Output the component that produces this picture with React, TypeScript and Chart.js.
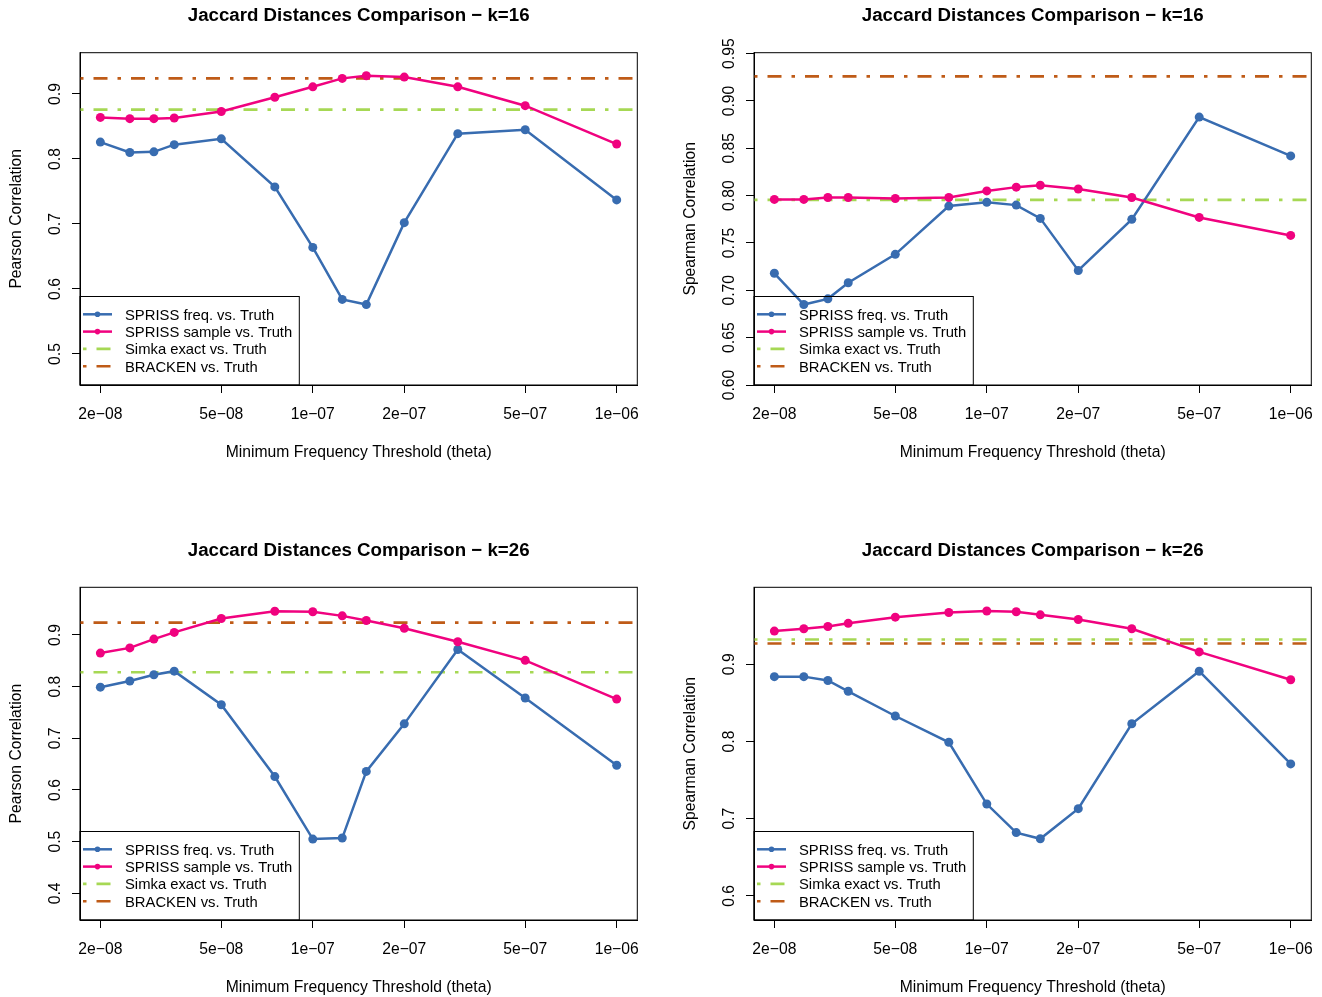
import React, { useEffect, useRef } from "react";
import { Chart, registerables } from "chart.js";

Chart.register(...registerables);

// ---------- data ----------
const THETA = [2e-8, 2.5e-8, 3e-8, 3.5e-8, 5e-8, 7.5e-8, 1e-7, 1.25e-7, 1.5e-7, 2e-7, 3e-7, 5e-7, 1e-6];
const X_TICKS = [2e-8, 5e-8, 1e-7, 2e-7, 5e-7, 1e-6];
const X_TICK_LABELS = ["2e\u221208", "5e\u221208", "1e\u221207", "2e\u221207", "5e\u221207", "1e\u221206"];
const X_TITLE = "Minimum Frequency Threshold (theta)";
const SERIES_NAMES = ["SPRISS freq. vs. Truth", "SPRISS sample vs. Truth", "Simka exact vs. Truth", "BRACKEN vs. Truth"];

// k=16, Pearson
const K16_PEARSON_FREQ = [0.826, 0.810, 0.811, 0.822, 0.831, 0.757, 0.664, 0.584, 0.576, 0.702, 0.839, 0.845, 0.737];
const K16_PEARSON_SAMPLE = [0.864, 0.862, 0.862, 0.863, 0.873, 0.895, 0.911, 0.924, 0.928, 0.926, 0.911, 0.882, 0.823];
const K16_PEARSON_SIMKA = 0.876;
const K16_PEARSON_BRACKEN = 0.924;
const K16_PEARSON_YTICKS = [0.5, 0.6, 0.7, 0.8, 0.9];

// k=16, Spearman
const K16_SPEARMAN_FREQ = [0.718, 0.685, 0.691, 0.708, 0.738, 0.789, 0.793, 0.790, 0.776, 0.721, 0.775, 0.883, 0.842];
const K16_SPEARMAN_SAMPLE = [0.796, 0.796, 0.798, 0.798, 0.797, 0.798, 0.805, 0.809, 0.811, 0.807, 0.798, 0.777, 0.758];
const K16_SPEARMAN_SIMKA = 0.7955;
const K16_SPEARMAN_BRACKEN = 0.926;
const K16_SPEARMAN_YTICKS = [0.6, 0.65, 0.7, 0.75, 0.8, 0.85, 0.9, 0.95];

// k=26, Pearson
const K26_PEARSON_FREQ = [0.799, 0.811, 0.823, 0.830, 0.765, 0.626, 0.505, 0.507, 0.636, 0.728, 0.872, 0.778, 0.648];
const K26_PEARSON_SAMPLE = [0.865, 0.875, 0.892, 0.905, 0.932, 0.946, 0.945, 0.937, 0.928, 0.913, 0.887, 0.851, 0.776];
const K26_PEARSON_SIMKA = 0.828;
const K26_PEARSON_BRACKEN = 0.924;
const K26_PEARSON_YTICKS = [0.4, 0.5, 0.6, 0.7, 0.8, 0.9];

// k=26, Spearman
const K26_SPEARMAN_FREQ = [0.884, 0.884, 0.879, 0.865, 0.833, 0.799, 0.719, 0.682, 0.674, 0.713, 0.823, 0.891, 0.771];
const K26_SPEARMAN_SAMPLE = [0.943, 0.946, 0.949, 0.953, 0.961, 0.967, 0.969, 0.968, 0.964, 0.958, 0.946, 0.916, 0.880];
const K26_SPEARMAN_SIMKA = 0.932;
const K26_SPEARMAN_BRACKEN = 0.927;
const K26_SPEARMAN_YTICKS = [0.6, 0.7, 0.8, 0.9];

// ---------- styling / layout ----------
const X_MIN = 1.714e-8;
const X_MAX = 1.169e-6;
const COLORS = ["#386CB0", "#F0027F", "#A6D854", "#BF5B17"];
const FONT = '"Liberation Sans", Arial, Helvetica, sans-serif';
const DOTDASH = [3.5, 10, 14, 10];
const CANVAS_W = 648;
const CANVAS_H = 465;

type PanelCfg = {
  title: string;
  yTitle: string;
  freq: number[];
  sample: number[];
  simka: number;
  bracken: number;
  yTicks: number[];
  dec: number;
  yMin: number;
  yMax: number;
  canvasLeft: number;
  canvasTop: number;
  boxTop: number; // page coords
};

const PANELS: PanelCfg[] = [
  {
    title: "Jaccard Distances Comparison \u2212 k=16",
    yTitle: "Pearson Correlation",
    freq: K16_PEARSON_FREQ, sample: K16_PEARSON_SAMPLE,
    simka: K16_PEARSON_SIMKA, bracken: K16_PEARSON_BRACKEN,
    yTicks: K16_PEARSON_YTICKS, dec: 1, yMin: 0.4523, yMax: 0.9635,
    canvasLeft: 0, canvasTop: 0, boxTop: 52.7,
  },
  {
    title: "Jaccard Distances Comparison \u2212 k=16",
    yTitle: "Spearman Correlation",
    freq: K16_SPEARMAN_FREQ, sample: K16_SPEARMAN_SAMPLE,
    simka: K16_SPEARMAN_SIMKA, bracken: K16_SPEARMAN_BRACKEN,
    yTicks: K16_SPEARMAN_YTICKS, dec: 2, yMin: 0.6, yMax: 0.951,
    canvasLeft: 674, canvasTop: 0, boxTop: 52.7,
  },
  {
    title: "Jaccard Distances Comparison \u2212 k=26",
    yTitle: "Pearson Correlation",
    freq: K26_PEARSON_FREQ, sample: K26_PEARSON_SAMPLE,
    simka: K26_PEARSON_SIMKA, bracken: K26_PEARSON_BRACKEN,
    yTicks: K26_PEARSON_YTICKS, dec: 1, yMin: 0.3484, yMax: 0.9923,
    canvasLeft: 0, canvasTop: 535, boxTop: 587.3,
  },
  {
    title: "Jaccard Distances Comparison \u2212 k=26",
    yTitle: "Spearman Correlation",
    freq: K26_SPEARMAN_FREQ, sample: K26_SPEARMAN_SAMPLE,
    simka: K26_SPEARMAN_SIMKA, bracken: K26_SPEARMAN_BRACKEN,
    yTicks: K26_SPEARMAN_YTICKS, dec: 1, yMin: 0.5688, yMax: 0.9997,
    canvasLeft: 674, canvasTop: 535, boxTop: 587.3,
  },
];

function makeDecorPlugin(p: PanelCfg) {
  return {
    id: "rDecor",
    afterDraw(chart: any) {
      const ctx = chart.ctx as CanvasRenderingContext2D;
      const a = chart.chartArea;
      const xs = chart.scales.x;
      const ys = chart.scales.y;
      ctx.save();
      ctx.strokeStyle = "#000";
      ctx.lineWidth = 1;
      ctx.setLineDash([]);
      ctx.strokeRect(a.left, a.top, a.right - a.left, a.bottom - a.top);

      ctx.fillStyle = "#000";
      ctx.font = `15.7px ${FONT}`;
      ctx.textAlign = "center";
      ctx.textBaseline = "alphabetic";
      X_TICKS.forEach((v, i) => {
        ctx.fillText(X_TICK_LABELS[i], xs.getPixelForValue(v), a.bottom + 34.3);
      });
      ctx.fillText(X_TITLE, (a.left + a.right) / 2, a.bottom + 72);

      p.yTicks.forEach((v) => {
        const y = ys.getPixelForValue(v);
        ctx.save();
        ctx.translate(a.left - 20.3, y);
        ctx.rotate(-Math.PI / 2);
        ctx.fillText(v.toFixed(p.dec), 0, 0);
        ctx.restore();
      });
      ctx.save();
      ctx.translate(a.left - 59.5, (a.top + a.bottom) / 2);
      ctx.rotate(-Math.PI / 2);
      ctx.fillText(p.yTitle, 0, 0);
      ctx.restore();

      ctx.font = `bold 18.7px ${FONT}`;
      ctx.fillText(p.title, (a.left + a.right) / 2, a.top - 31.5);

      // legend
      const lx = a.left;
      const lh = 88.5;
      const ly = a.bottom - lh;
      ctx.strokeStyle = "#000";
      ctx.lineWidth = 1;
      ctx.strokeRect(lx, ly, 219.3, lh);
      const rows = [-70.7, -53.4, -36.1, -18.8];
      ctx.font = `14.8px ${FONT}`;
      ctx.textAlign = "left";
      SERIES_NAMES.forEach((name, i) => {
        const cy = a.bottom + rows[i];
        ctx.strokeStyle = COLORS[i];
        ctx.lineCap = "butt";
        if (i < 2) {
          ctx.setLineDash([]);
          ctx.lineWidth = 2.5;
        } else {
          ctx.setLineDash(DOTDASH);
          ctx.lineWidth = 2.6;
        }
        ctx.beginPath();
        ctx.moveTo(lx + 3, cy);
        ctx.lineTo(lx + 32, cy);
        ctx.stroke();
        ctx.setLineDash([]);
        if (i < 2) {
          ctx.fillStyle = COLORS[i];
          ctx.beginPath();
          ctx.arc(lx + 17.5, cy, 2.8, 0, Math.PI * 2);
          ctx.fill();
        }
        ctx.fillStyle = "#000";
        ctx.fillText(name, lx + 45, cy + 5.3);
      });
      ctx.restore();
    },
  };
}

function Panel({ p }: { p: PanelCfg }) {
  const ref = useRef<HTMLCanvasElement | null>(null);
  useEffect(() => {
    if (!ref.current) return;
    const padTop = p.boxTop - p.canvasTop;
    const seriesDs = (vals: number[], color: string, label: string) => ({
      label,
      data: THETA.map((t, i) => ({ x: t, y: vals[i] })),
      borderColor: color,
      backgroundColor: color,
      borderWidth: 2.5,
      pointRadius: 4.5,
      pointHoverRadius: 4.5,
      pointBorderWidth: 0,
      pointBackgroundColor: color,
      tension: 0,
      fill: false,
    });
    const hlineDs = (v: number, color: string, label: string) => ({
      label,
      data: [{ x: X_MIN, y: v }, { x: X_MAX, y: v }],
      borderColor: color,
      backgroundColor: color,
      borderWidth: 2.6,
      borderDash: DOTDASH,
      borderCapStyle: "butt",
      pointRadius: 0,
      pointHoverRadius: 0,
      tension: 0,
      fill: false,
    });
    const chart = new Chart(ref.current, {
      type: "line",
      data: {
        datasets: [
          seriesDs(p.sample, COLORS[1], SERIES_NAMES[1]),
          seriesDs(p.freq, COLORS[0], SERIES_NAMES[0]),
          hlineDs(p.simka, COLORS[2], SERIES_NAMES[2]),
          hlineDs(p.bracken, COLORS[3], SERIES_NAMES[3]),
        ] as any,
      },
      options: {
        animation: false,
        responsive: false,
        devicePixelRatio: 1,
        events: [],
        layout: { padding: { left: 0, top: padTop, right: CANVAS_W - 637.3, bottom: 0 } },
        plugins: { legend: { display: false }, title: { display: false }, tooltip: { enabled: false } },
        scales: {
          x: {
            type: "logarithmic",
            min: X_MIN,
            max: X_MAX,
            position: "bottom",
            afterBuildTicks: (s: any) => {
              s.ticks = X_TICKS.map((v) => ({ value: v }));
            },
            afterFit: (s: any) => {
              s.height = CANVAS_H - 385;
            },
            ticks: { display: false },
            grid: { drawOnChartArea: false, drawTicks: true, tickLength: 8, color: "#000", lineWidth: 1 },
            border: { display: true, color: "#000", width: 1 },
          },
          y: {
            type: "linear",
            min: p.yMin,
            max: p.yMax,
            position: "left",
            afterBuildTicks: (s: any) => {
              s.ticks = p.yTicks.map((v) => ({ value: v }));
            },
            afterFit: (s: any) => {
              s.width = 80;
            },
            ticks: { display: false },
            grid: { drawOnChartArea: false, drawTicks: true, tickLength: 8, color: "#000", lineWidth: 1 },
            border: { display: true, color: "#000", width: 1 },
          },
        },
      } as any,
      plugins: [makeDecorPlugin(p)],
    });
    return () => chart.destroy();
  }, [p]);
  return (
    <canvas
      ref={ref}
      width={CANVAS_W}
      height={CANVAS_H}
      style={{
        position: "absolute",
        left: p.canvasLeft,
        top: p.canvasTop,
        width: CANVAS_W,
        height: CANVAS_H,
        display: "block",
      }}
    />
  );
}

export default function App() {
  return (
    <div
      style={{
        position: "absolute",
        left: 0,
        top: 0,
        width: 1322,
        height: 997,
        overflow: "hidden",
        background: "#fff",
      }}
    >
      {PANELS.map((p, i) => (
        <Panel key={i} p={p} />
      ))}
    </div>
  );
}
